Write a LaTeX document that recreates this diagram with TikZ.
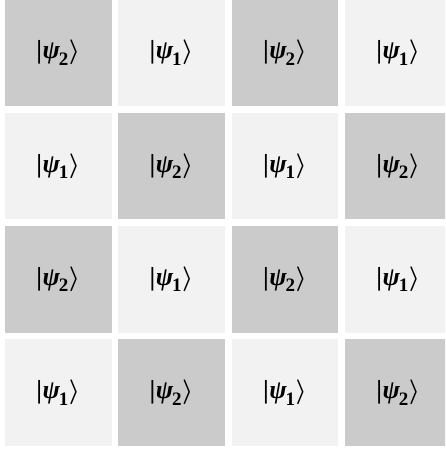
\documentclass[tikz,border=0pt]{standalone}
\usepackage{fontspec}
\setmainfont{Liberation Serif}
\usepackage{amsmath}
\definecolor{darkcell}{HTML}{CBCBCB}
\definecolor{lightcell}{HTML}{F2F2F2}
\newcommand{\ketpsi}[1]{{\bfseries |\kern0.02em\textit{ψ}\kern-0.05em\raisebox{-0.25em}{\fontsize{19}{19}\selectfont #1}\kern0.02em$\boldsymbol{\rangle}$}}
\tikzset{
  cell/.style={draw=none, minimum width=106.5pt, minimum height=106.5pt, inner sep=0pt, anchor=center, font=\fontsize{26}{28}\selectfont},
  dk/.style={cell, fill=darkcell},
  lt/.style={cell, fill=lightcell}
}
\begin{document}
\begin{tikzpicture}[x=1pt,y=1pt]
\useasboundingbox (0,0) rectangle (445,450);
\clip (0,0) rectangle (445,450);
% row 1 (top)
\node[dk] (c11) at (58.25,397.3) {\ketpsi{2}};
\node[lt] (c12) at (171.55,397.3) {\ketpsi{1}};
\node[dk] (c13) at (284.85,397.3) {\ketpsi{2}};
\node[lt] (c14) at (398.15,397.3) {\ketpsi{1}};
% row 2
\node[lt] (c21) at (58.25,284.0) {\ketpsi{1}};
\node[dk] (c22) at (171.55,284.0) {\ketpsi{2}};
\node[lt] (c23) at (284.85,284.0) {\ketpsi{1}};
\node[dk] (c24) at (398.15,284.0) {\ketpsi{2}};
% row 3
\node[dk] (c31) at (58.25,170.7) {\ketpsi{2}};
\node[lt] (c32) at (171.55,170.7) {\ketpsi{1}};
\node[dk] (c33) at (284.85,170.7) {\ketpsi{2}};
\node[lt] (c34) at (398.15,170.7) {\ketpsi{1}};
% row 4
\node[lt] (c41) at (58.25,57.4) {\ketpsi{1}};
\node[dk] (c42) at (171.55,57.4) {\ketpsi{2}};
\node[lt] (c43) at (284.85,57.4) {\ketpsi{1}};
\node[dk] (c44) at (398.15,57.4) {\ketpsi{2}};
\end{tikzpicture}
\end{document}
